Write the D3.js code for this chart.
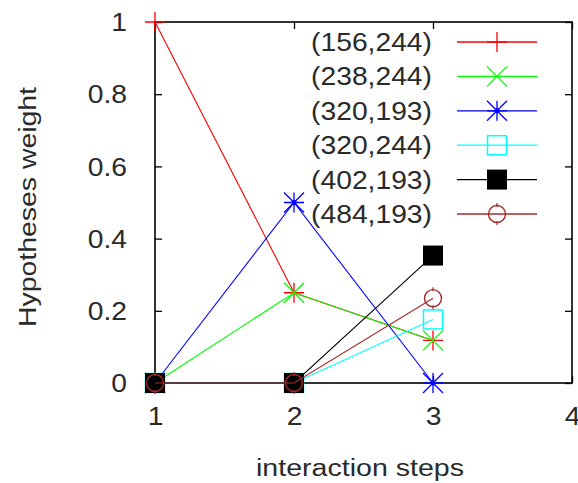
<!DOCTYPE html>
<html>
<head>
<meta charset="utf-8">
<script src="https://cdn.jsdelivr.net/npm/d3@7"></script>
<style>
  html, body { margin: 0; padding: 0; background: #fff; }
  svg { display: block; }
</style>
</head>
<body>
<svg id="chart" width="578" height="483"></svg>
<script>
// ---- data ----
const steps = [1, 2, 3];
const seriesNames = ["(156,244)", "(238,244)", "(320,193)", "(320,244)", "(402,193)", "(484,193)"];
const seriesColors = ["#ff0000", "#00ff00", "#0000ff", "#00ffff", "#000000", "#a52a2a"];
const seriesMarkers = ["plus", "cross", "star", "box", "fbox", "circle"];
const s156_244 = [1, 0.25, 0.118];
const s238_244 = [0, 0.25, 0.118];
const s320_193 = [0, 0.5, 0];
const s320_244 = [0, 0, 0.176];
const s402_193 = [0, 0, 0.353];
const s484_193 = [0, 0, 0.235];
const seriesValues = [s156_244, s238_244, s320_193, s320_244, s402_193, s484_193];
const xTicks = [1, 2, 3, 4];
const yTicks = [0, 0.2, 0.4, 0.6, 0.8, 1];
const xTitle = "interaction steps";
const yTitle = "Hypotheses weight";

// ---- layout ----
const svg = d3.select("#chart");
const L = 155, R = 572, T = 22, B = 383;
const x = d3.scaleLinear().domain([1, 4]).range([L, R]);
const y = d3.scaleLinear().domain([0, 1]).range([B, T]);
const FONT = "'Liberation Sans', Arial, sans-serif";
const STRETCH = 1.13;
const TXT = "#2a2a2a";

function stretchText(sel, f) {
  sel.each(function () {
    const len = this.getComputedTextLength();
    d3.select(this).attr("textLength", len * f).attr("lengthAdjust", "spacingAndGlyphs");
  });
}

const fmt = d => (d === 0 || d === 1) ? String(d) : d3.format(".1f")(d);

// Axes (ticks inward, mirrored)
const gx = svg.append("g").attr("transform", `translate(0,${B})`)
  .call(d3.axisBottom(x).tickValues(xTicks).tickSize(-7).tickPadding(0).tickFormat(d3.format("d")));
const gxt = svg.append("g").attr("transform", `translate(0,${T})`)
  .call(d3.axisTop(x).tickValues(xTicks).tickSize(-7).tickFormat(""));
const gy = svg.append("g").attr("transform", `translate(${L},0)`)
  .call(d3.axisLeft(y).tickValues(yTicks).tickSize(-7).tickPadding(0).tickFormat(fmt));
const gyr = svg.append("g").attr("transform", `translate(${R},0)`)
  .call(d3.axisRight(y).tickValues(yTicks).tickSize(-7).tickFormat(""));

[gx, gxt, gy, gyr].forEach(g => {
  g.select(".domain").remove();
  g.selectAll(".tick line").attr("stroke", "#000").attr("stroke-width", 1.3);
});

gx.selectAll("text")
  .attr("font-family", FONT).attr("font-size", 25).attr("fill", TXT)
  .attr("y", 0).attr("dy", 0).attr("transform", "translate(0,42)");
stretchText(gx.selectAll("text"), STRETCH);

gy.selectAll("text")
  .attr("font-family", FONT).attr("font-size", 25).attr("fill", TXT)
  .attr("x", -28).attr("dy", "0.35em");
stretchText(gy.selectAll("text"), STRETCH);

// frame
svg.append("rect").attr("x", L).attr("y", T).attr("width", R - L).attr("height", B - T)
  .attr("fill", "none").attr("stroke", "#000").attr("stroke-width", 1.6);

// markers
function drawMarker(g, type, cx, cy, color) {
  const s = 10;
  if (type === "plus") {
    g.append("path").attr("d", `M${cx - s},${cy}H${cx + s}M${cx},${cy - s}V${cy + s}`)
      .attr("stroke", color).attr("stroke-width", 1.3).attr("fill", "none");
  } else if (type === "cross") {
    g.append("path").attr("d", `M${cx - s},${cy - s}L${cx + s},${cy + s}M${cx - s},${cy + s}L${cx + s},${cy - s}`)
      .attr("stroke", color).attr("stroke-width", 1.3).attr("fill", "none");
  } else if (type === "star") {
    g.append("path").attr("d", `M${cx - s},${cy}H${cx + s}M${cx},${cy - s}V${cy + s}M${cx - s},${cy - s}L${cx + s},${cy + s}M${cx - s},${cy + s}L${cx + s},${cy - s}`)
      .attr("stroke", color).attr("stroke-width", 1.3).attr("fill", "none");
    g.append("circle").attr("cx", cx).attr("cy", cy).attr("r", 2.5).attr("fill", color);
  } else if (type === "box") {
    g.append("rect").attr("x", cx - 9.5).attr("y", cy - 9.5).attr("width", 19).attr("height", 19)
      .attr("stroke", color).attr("stroke-width", 1.5).attr("fill", "none");
  } else if (type === "fbox") {
    g.append("rect").attr("x", cx - 10).attr("y", cy - 10).attr("width", 20).attr("height", 20)
      .attr("fill", color);
  } else if (type === "circle") {
    g.append("circle").attr("cx", cx).attr("cy", cy).attr("r", 8.5)
      .attr("stroke", color).attr("stroke-width", 1.4).attr("fill", "none");
    g.append("path").attr("d", `M${cx},${cy - 11}V${cy - 7}M${cx},${cy + 7}V${cy + 11}`)
      .attr("stroke", color).attr("stroke-width", 1.2);
  }
}

const line = d3.line().x((d, i) => x(steps[i])).y(d => y(d));

seriesValues.forEach((vals, si) => {
  const g = svg.append("g");
  const color = seriesColors[si];
  g.append("path").datum(vals).attr("d", line)
    .attr("fill", "none").attr("stroke", color).attr("stroke-width", 1.1);
  vals.forEach((v, i) => drawMarker(g, seriesMarkers[si], x(steps[i]), y(v), color));

  // legend entry
  const ly = 42 + si * 34.4;
  const lt = svg.append("text").attr("x", 432).attr("y", ly).attr("dy", "0.36em")
    .attr("text-anchor", "end").attr("font-family", FONT).attr("font-size", 25).attr("fill", TXT)
    .text(seriesNames[si]);
  stretchText(lt, STRETCH);
  svg.append("line").attr("x1", 457).attr("x2", 537).attr("y1", ly).attr("y2", ly)
    .attr("stroke", color).attr("stroke-width", 1.3);
  drawMarker(svg.append("g"), seriesMarkers[si], 497, ly, color);
});

// axis titles
svg.append("text").attr("x", 360).attr("y", 476).attr("text-anchor", "middle")
  .attr("font-family", FONT).attr("font-size", 23).attr("fill", TXT).text(xTitle)
  .attr("textLength", 208).attr("lengthAdjust", "spacingAndGlyphs");
svg.append("text").attr("transform", "translate(36,207) rotate(-90)").attr("text-anchor", "middle")
  .attr("font-family", FONT).attr("font-size", 23).attr("fill", TXT).text(yTitle)
  .attr("textLength", 240).attr("lengthAdjust", "spacingAndGlyphs");
</script>
</body>
</html>
